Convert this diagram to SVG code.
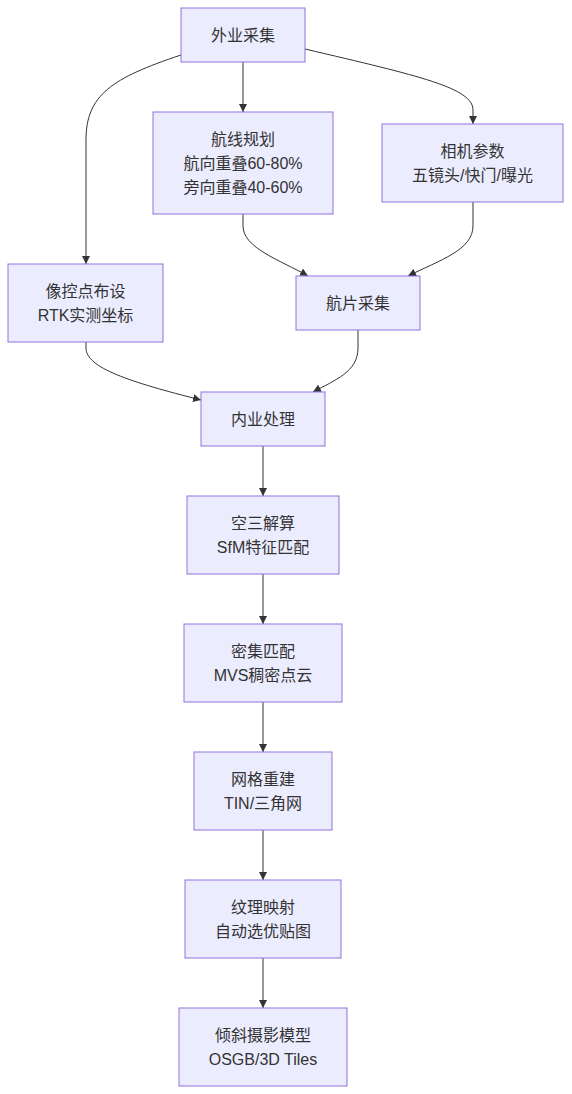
<svg xmlns="http://www.w3.org/2000/svg" width="572" height="1094" viewBox="0 0 572 1094">
<style>
.node rect{fill:#ECECFF;stroke:#9370DB;stroke-width:1px}
.node text{font-family:"Liberation Sans","Noto Sans CJK SC",sans-serif;font-size:16px;fill:#333333;text-anchor:middle;dominant-baseline:central}
.edge{fill:none;stroke:#333333;stroke-width:1px}
</style>
<defs>
<marker id="arrow" viewBox="0 0 10 10" refX="10" refY="5" markerUnits="userSpaceOnUse" markerWidth="8" markerHeight="8" orient="auto">
<path d="M0,0 L10,5 L0,10 z" fill="#333333"/>
</marker>
</defs>
<rect width="572" height="1094" fill="#ffffff"/>
<g id="connectors">
<path class="edge" d="M243,62 L243,112" marker-end="url(#arrow)"/>
<path class="edge" d="M181,55 C112,78 86,95 86,140 L86,264" marker-end="url(#arrow)"/>
<path class="edge" d="M305,49 C420,76 473,88 473,110 L473,124" marker-end="url(#arrow)"/>
<path class="edge" d="M243,214 L243,226 C243,248 280,260 308,276" marker-end="url(#arrow)"/>
<path class="edge" d="M473,202 L473,226 C473,250 440,260 408,276" marker-end="url(#arrow)"/>
<path class="edge" d="M86,342 L86,348 C86,368 130,382 201,400" marker-end="url(#arrow)"/>
<path class="edge" d="M358,330 L358,348 C358,372 335,380 313,392" marker-end="url(#arrow)"/>
<path class="edge" d="M263,446 L263,496" marker-end="url(#arrow)"/>
<path class="edge" d="M263,574 L263,624" marker-end="url(#arrow)"/>
<path class="edge" d="M263,702 L263,752" marker-end="url(#arrow)"/>
<path class="edge" d="M263,830 L263,880" marker-end="url(#arrow)"/>
<path class="edge" d="M263,958 L263,1008" marker-end="url(#arrow)"/>
</g>
<g id="n1" class="node"><rect x="181" y="8" width="124" height="54"/><text x="243" y="35">外业采集</text></g>
<g id="n2" class="node"><rect x="153" y="112" width="180" height="102"/><text x="243" y="139">航线规划</text><text x="243" y="163">航向重叠60-80%</text><text x="243" y="187">旁向重叠40-60%</text></g>
<g id="n3" class="node"><rect x="382" y="124" width="181" height="78"/><text x="472.5" y="151">相机参数</text><text x="472.5" y="175">五镜头/快门/曝光</text></g>
<g id="n4" class="node"><rect x="8" y="264" width="155" height="78"/><text x="85.5" y="291">像控点布设</text><text x="85.5" y="315">RTK实测坐标</text></g>
<g id="n5" class="node"><rect x="296" y="276" width="124" height="54"/><text x="358" y="303">航片采集</text></g>
<g id="n6" class="node"><rect x="201" y="392" width="124" height="54"/><text x="263" y="419">内业处理</text></g>
<g id="n7" class="node"><rect x="187" y="496" width="152" height="78"/><text x="263" y="523">空三解算</text><text x="263" y="547">SfM特征匹配</text></g>
<g id="n8" class="node"><rect x="184" y="624" width="158" height="78"/><text x="263" y="651">密集匹配</text><text x="263" y="675">MVS稠密点云</text></g>
<g id="n9" class="node"><rect x="194" y="752" width="138" height="78"/><text x="263" y="779">网格重建</text><text x="263" y="803">TIN/三角网</text></g>
<g id="n10" class="node"><rect x="185" y="880" width="156" height="78"/><text x="263" y="907">纹理映射</text><text x="263" y="931">自动选优贴图</text></g>
<g id="n11" class="node"><rect x="179" y="1008" width="168" height="78"/><text x="263" y="1035">倾斜摄影模型</text><text x="263" y="1059">OSGB/3D Tiles</text></g>
</svg>
